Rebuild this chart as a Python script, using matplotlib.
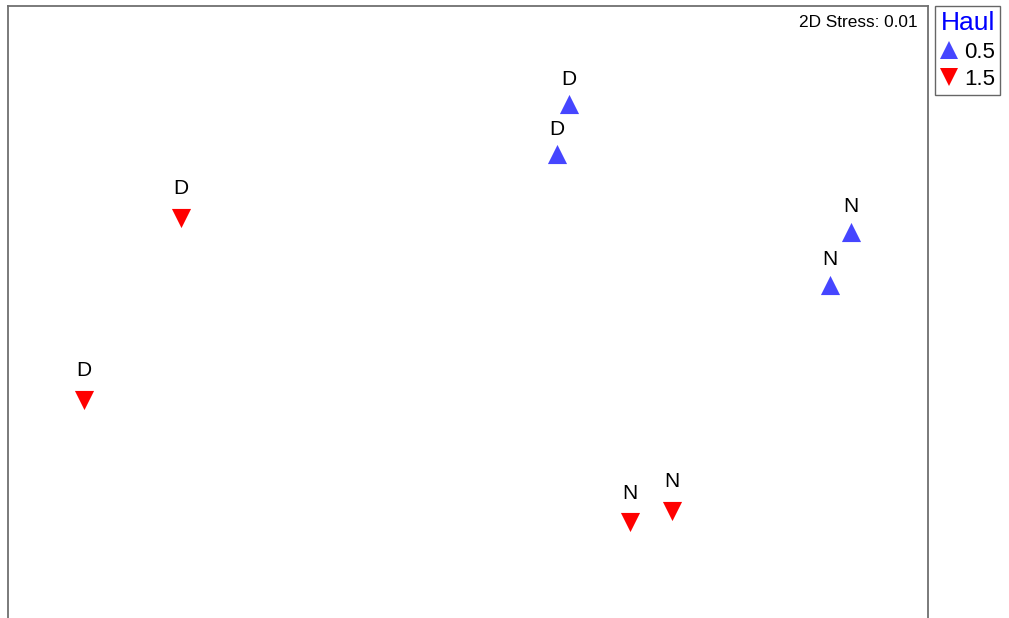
import matplotlib
matplotlib.use("Agg")
import matplotlib.pyplot as plt
from matplotlib.lines import Line2D

plt.rcParams['font.family'] = ['Liberation Sans', 'DejaVu Sans']

# NMDS coordinates (arbitrary units)
haul_05_x = [0.439, 0.387, 1.665, 1.574]
haul_05_y = [0.967, 0.746, 0.402, 0.168]
haul_05_lab = ["D", "D", "N", "N"]

haul_15_x = [-1.248, -1.670, 0.704, 0.887]
haul_15_y = [0.464, -0.340, -0.879, -0.830]
haul_15_lab = ["D", "D", "N", "N"]

legend_title = "Haul"
legend_labels = ["0.5", "1.5"]
stress_text = "2D Stress: 0.01"

blue = "#4646ff"
red = "#ff0000"

W, H = 1009, 618
fig = plt.figure(figsize=(W / 100, H / 100), dpi=100)
ax = fig.add_axes([8 / W, 1 - 640 / H, 920 / W, 634 / H])
ax.set_xlim(-2, 2)
ax.set_ylim(-1.4, 1.4)
ax.set_xticks([])
ax.set_yticks([])
for s in ax.spines.values():
    s.set_color("#707070")
    s.set_linewidth(1.3)

ax.scatter(haul_05_x, haul_05_y, marker="^", s=190, color=blue, linewidths=0, zorder=3)
ax.scatter(haul_15_x, haul_15_y, marker="v", s=190, color=red, linewidths=0, zorder=3)

for x, y, t in zip(haul_05_x, haul_05_y, haul_05_lab):
    ax.annotate(t, (x, y), xytext=(0, 25), textcoords="offset pixels",
                ha="center", va="center", fontsize=15, color="black")
for x, y, t in zip(haul_15_x, haul_15_y, haul_15_lab):
    ax.annotate(t, (x, y), xytext=(0, 29), textcoords="offset pixels",
                ha="center", va="center", fontsize=15, color="black")

ax.text(0.989, 0.9735, stress_text, transform=ax.transAxes, ha="right", va="center",
        fontsize=12.4, color="black")

handles = [
    Line2D([], [], marker="^", linestyle="none", color=blue, markersize=13, markeredgewidth=0),
    Line2D([], [], marker="v", linestyle="none", color=red, markersize=13, markeredgewidth=0),
]
leg = fig.legend(handles, legend_labels, title=legend_title,
                 loc="upper left", bbox_to_anchor=(935 / W, 1 - 6 / H),
                 fontsize=16, title_fontsize=19, frameon=True, fancybox=False,
                 borderpad=0.22, handlelength=0.8, handletextpad=0.3,
                 labelspacing=0.3, borderaxespad=0)
leg.get_title().set_color("#0000ff")
leg.get_frame().set_edgecolor("#404040")
leg.get_frame().set_linewidth(1.0)

fig.savefig("out.png", dpi=100)
